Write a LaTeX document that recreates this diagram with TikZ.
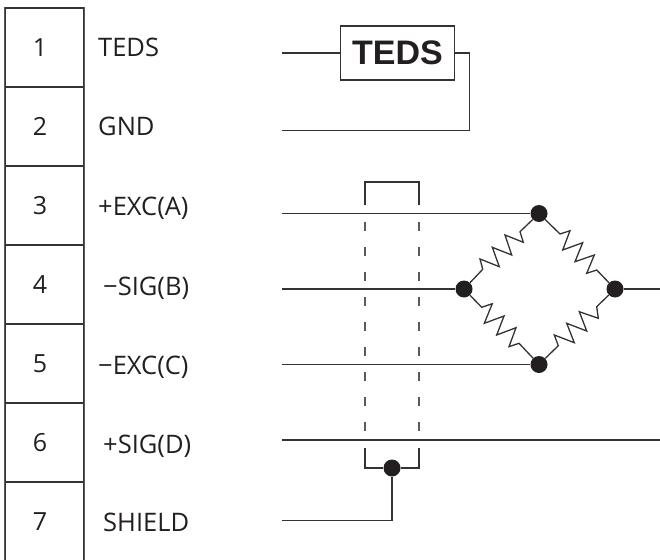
\documentclass[tikz,border=0pt]{standalone}
\usepackage{fontspec}
\setmainfont{Open Sans}
\newfontfamily\boxfont{Liberation Sans}
\definecolor{wirecol}{HTML}{333333}
\definecolor{sidecol}{HTML}{5A5A5A}
\definecolor{dotcol}{HTML}{231F20}
\tikzset{
  cell/.style={draw=wirecol, line width=1.2pt, minimum width=79pt, minimum height=79pt, inner sep=0pt},
  pinnum/.style={inner sep=0pt, font=\fontsize{25}{25}\selectfont, text=dotcol},
  pinlabel/.style={anchor=base west, inner sep=0pt, font=\fontsize{25.5}{26}\selectfont, text=dotcol},
  wire/.style={draw=wirecol, line width=1.5pt},
  dot/.style={circle, fill=dotcol, minimum size=17pt, inner sep=0pt},
  resistor/.style={draw=wirecol, line width=1.3pt, line join=miter},
  shielddash/.style={draw=sidecol, line width=1.6pt, dash pattern=on 9.5pt off 15.5pt}
}
\begin{document}
\begin{tikzpicture}[x=1pt, y=-1pt]
  \clip (0,0) rectangle (660,559);
  \fill[white] (0,0) rectangle (660,559);
  % connector table
  \foreach \n/\y in {1/47.5, 2/126.5, 3/205.5, 4/284.5, 5/363.5, 6/442.5, 7/521.5} {
    \node[cell] (cell\n) at (44.5,\y) {};
    \node[pinnum] (num\n) at (40,\y) {\n};
  }
  \draw[line width=1.6pt, draw=sidecol] (cell1.north west) -- (cell7.south west);
  \draw[line width=1.6pt, draw=sidecol] (cell1.north east) -- (cell7.south east);
  \node[pinlabel] (lab1) at (98,56.7) {TEDS};
  \node[pinlabel] (lab2) at (98,135) {GND};
  \node[pinlabel] (lab3) at (98,215) {+EXC(A)};
  \node[pinlabel] (lab4) at (103,295) {−SIG(B)};
  \node[pinlabel] (lab5) at (98,374) {−EXC(C)};
  \node[pinlabel] (lab6) at (103,453) {+SIG(D)};
  \node[pinlabel] (lab7) at (103,531.7) {SHIELD};
  % TEDS chip
  \coordinate (w1) at (282,53); \coordinate (w2) at (282,130.5);
  \coordinate (w3) at (282,213.5); \coordinate (w4) at (282,289);
  \coordinate (w5) at (282,364.5); \coordinate (w6) at (282,440);
  \coordinate (w7) at (282,520.5);
  \node[draw=wirecol, line width=1.4pt, minimum width=114pt, minimum height=54pt, inner sep=0pt, font=\boxfont\bfseries\fontsize{34}{34}\selectfont, text=dotcol] (teds) at (397.5,53) {TEDS};
  \coordinate (bend) at (469.5,53);
  \draw[wire] (w1) -- (teds);
  \draw[wire] (teds) -- (bend) |- (w2);
  % bridge
  \node[dot] (top) at (539,213.5) {};
  \node[dot] (left) at (464,289) {};
  \node[dot] (right) at (615,289) {};
  \node[dot] (bottom) at (539,364.5) {};
  \coordinate (out4) at (660,289); \coordinate (out6) at (660,440);
  \draw[resistor] (top) -- (520,231.7) -- (523.3,242.3) -- (505,235) -- (511.7,255) -- (492.3,247.3) -- (499.3,266.7) -- (480,259) -- (482.7,269.3) -- (left);
  \draw[resistor] (top) -- (560,234) -- (570,230.7) -- (562.7,250) -- (582.7,242.7) -- (575,261.7) -- (594.3,255) -- (586.7,273.3) -- (596.7,270) -- (right);
  \draw[resistor] (left) -- (481.7,307.3) -- (492.3,303.7) -- (484.3,323.3) -- (504,316) -- (496.7,335) -- (516,327.7) -- (509,346.7) -- (519,343.3) -- (bottom);
  \draw[resistor] (right) -- (596.7,306.7) -- (598.3,318.3) -- (579.3,311.7) -- (586.7,331) -- (566.7,323.3) -- (574.3,342.7) -- (554.3,335) -- (558.3,345.7) -- (bottom);
  \draw[wire] (w3) -- (top);
  \draw[wire] (w4) -- (left);
  \draw[wire] (w5) -- (bottom);
  \draw[wire] (right) -- (out4);
  \draw[wire] (w6) -- (out6);
  % shield
  \node[dot] (gnd) at (392,468) {};
  \draw[wire] (gnd) |- (w7);
  \draw[wire] (365,205) |- (419,182) -- (419,205);
  \draw[wire] (365,448) |- (gnd) -| (419,448);
  \draw[shielddash] (365,221.7) -- (365,432);
  \draw[shielddash] (419,221.7) -- (419,432);
\end{tikzpicture}
\end{document}
